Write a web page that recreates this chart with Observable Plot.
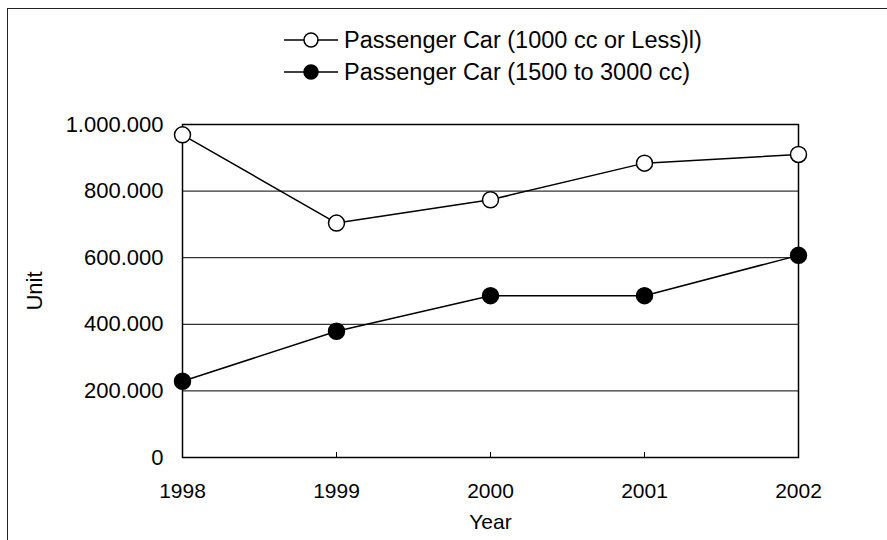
<!DOCTYPE html>
<html>
<head>
<meta charset="utf-8">
<script src="https://cdn.jsdelivr.net/npm/d3@7"></script>
<script src="https://cdn.jsdelivr.net/npm/@observablehq/plot@0.6"></script>
<style>
  html, body { margin: 0; padding: 0; background: #fff; }
  #wrap { position: relative; width: 887px; height: 540px; overflow: hidden; font-family: "Liberation Sans", Arial, sans-serif; }
  #border { position: absolute; left: 7px; top: 8px; width: 900px; height: 600px; border-left: 1.5px solid #222; border-top: 1.5px solid #222; }
  #legend { position: absolute; left: 284px; top: 24px; font-size: 23.5px; color: #000; }
  #legend .row { display: flex; align-items: center; height: 32px; }
  #legend svg { margin-right: 4px; }
  #chart { position: absolute; left: 0; top: 0; }
</style>
</head>
<body>
<div id="wrap">
  <div id="border"></div>
  <div id="chart"></div>
  <div id="legend"></div>
</div>
<script>
// Annual units by engine class
const years = [1998, 1999, 2000, 2001, 2002];
const seriesNames = ["Passenger Car (1000 cc or Less)l)", "Passenger Car (1500 to 3000 cc)"];
const smallCar = [969000, 704000, 774000, 884000, 910000];
const midCar = [229000, 379000, 486000, 486000, 607000];
const yTicks = [0, 200000, 400000, 600000, 800000, 1000000];
const markerFill = ["#fff", "#000"];

const rows = [];
[smallCar, midCar].forEach((vals, s) => {
  vals.forEach((v, i) => rows.push({series: seriesNames[s], year: years[i], value: v}));
});

const fmt = d => d3.format(",")(d).replace(/,/g, ".");
const font = "Liberation Sans, Arial, sans-serif";

const chart = Plot.plot({
  width: 887,
  height: 540,
  marginLeft: 182,
  marginRight: 89,
  marginTop: 124,
  marginBottom: 83,
  style: {fontFamily: font, fontSize: "20px", color: "#000", background: "transparent", overflow: "visible"},
  x: {type: "linear", domain: [1998, 2002]},
  y: {domain: [0, 1000000]},
  color: {domain: seriesNames, range: markerFill},
  marks: [
    Plot.gridY(yTicks, {stroke: "#000", strokeOpacity: 1, strokeWidth: 1}),
    Plot.ruleX(years.slice(1, -1), {y1: 0, y2: 15000, stroke: "#000", strokeWidth: 1}),
    Plot.frame({stroke: "#000", strokeWidth: 1.5}),
    Plot.axisY(yTicks, {tickSize: 0, tickPadding: 19, tickFormat: fmt, fontSize: 22, label: null}),
    Plot.axisY({ticks: [], tickSize: 0, fontSize: 22,
      label: "Unit", labelAnchor: "center", labelArrow: "none", labelOffset: 156}),
    Plot.axisX(years, {tickSize: 0, tickPadding: 26, tickFormat: d => String(d), fontSize: 21, label: null}),
    Plot.axisX({ticks: [], tickSize: 0, fontSize: 21,
      label: "Year", labelAnchor: "center", labelArrow: "none", labelOffset: 71}),
    Plot.line(rows, {x: "year", y: "value", z: "series", stroke: "#000", strokeWidth: 1.5}),
    Plot.dot(rows, {x: "year", y: "value", fill: "series", stroke: "#000", strokeWidth: 1.5, r: 8})
  ]
});
document.getElementById("chart").appendChild(chart);

// Legend: line-and-marker swatch for each series
const legend = d3.select("#legend");
seriesNames.forEach((name, i) => {
  const row = legend.append("div").attr("class", "row");
  const sw = row.append("svg").attr("width", 56).attr("height", 20);
  sw.append("line").attr("x1", 0).attr("x2", 54).attr("y1", 10).attr("y2", 10)
    .attr("stroke", "#000").attr("stroke-width", 1.5);
  sw.append("circle").attr("cx", 27).attr("cy", 10).attr("r", 7)
    .attr("fill", markerFill[i]).attr("stroke", "#000").attr("stroke-width", 1.5);
  row.append("span").text(name);
});
</script>
</body>
</html>
